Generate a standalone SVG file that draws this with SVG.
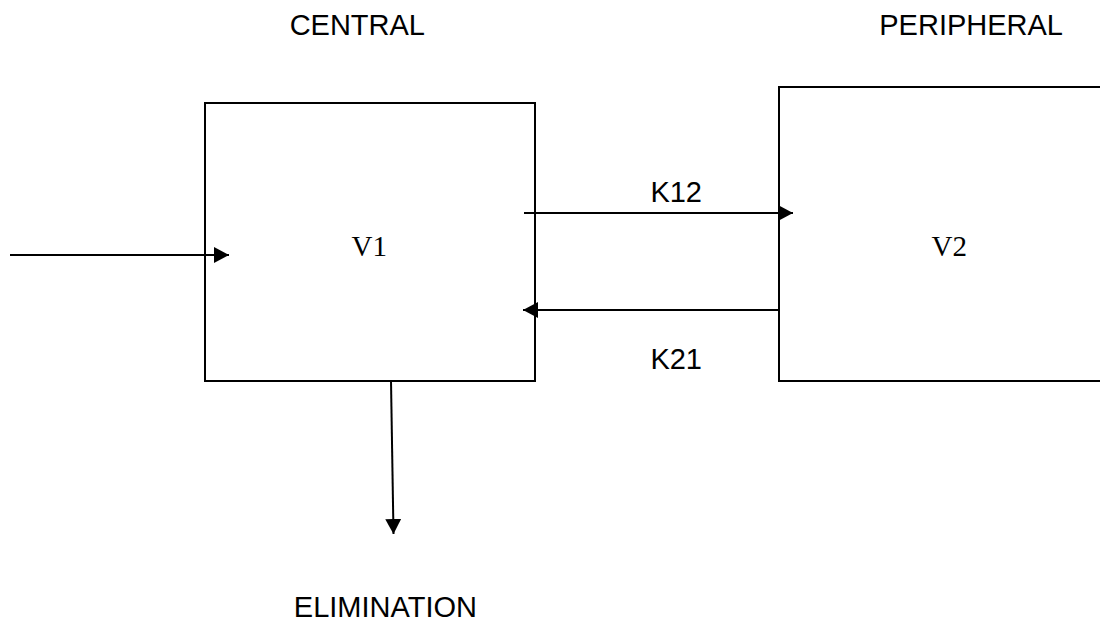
<svg xmlns="http://www.w3.org/2000/svg" width="1100" height="628" viewBox="0 0 1100 628">
<style>
.box{fill:#fff;stroke:#000;stroke-width:2}
.lbl{font-family:"Liberation Sans",Arial,sans-serif;font-size:29px;fill:#000;text-anchor:end}
.vol{font-family:"Liberation Serif","Times New Roman",serif;font-size:29px;fill:#000;text-anchor:end}
.conn{stroke:#000;stroke-width:2;fill:none;marker-end:url(#ah)}
</style>
<defs>
<marker id="ah" markerUnits="userSpaceOnUse" markerWidth="16" markerHeight="16" viewBox="0 0 16 16" refX="15" refY="8" orient="auto">
<path d="M0,0 L15,8 L0,16 Z" fill="#000"/>
</marker>
</defs>
<rect width="1100" height="628" fill="#fff"/>
<g id="labels">
<text class="lbl" x="425" y="35">CENTRAL</text>
<text class="lbl" x="1063" y="35">PERIPHERAL</text>
<text class="lbl" x="477" y="617">ELIMINATION</text>
</g>
<g id="central">
<rect class="box" x="205" y="103" width="330" height="278"/>
<text class="vol" x="387" y="256">V1</text>
</g>
<g id="peripheral">
<rect class="box" x="779" y="87" width="340" height="294"/>
<text class="vol" x="967" y="256">V2</text>
</g>
<g id="connectors">
<line class="conn" x1="10" y1="255" x2="229" y2="255"/>
<line class="conn" x1="524" y1="213" x2="793" y2="213"/>
<line class="conn" x1="779" y1="310" x2="523" y2="310"/>
<line class="conn" x1="391" y1="381" x2="393.5" y2="534"/>
<text class="lbl" x="702" y="202">K12</text>
<text class="lbl" x="702" y="369">K21</text>
</g>
</svg>
